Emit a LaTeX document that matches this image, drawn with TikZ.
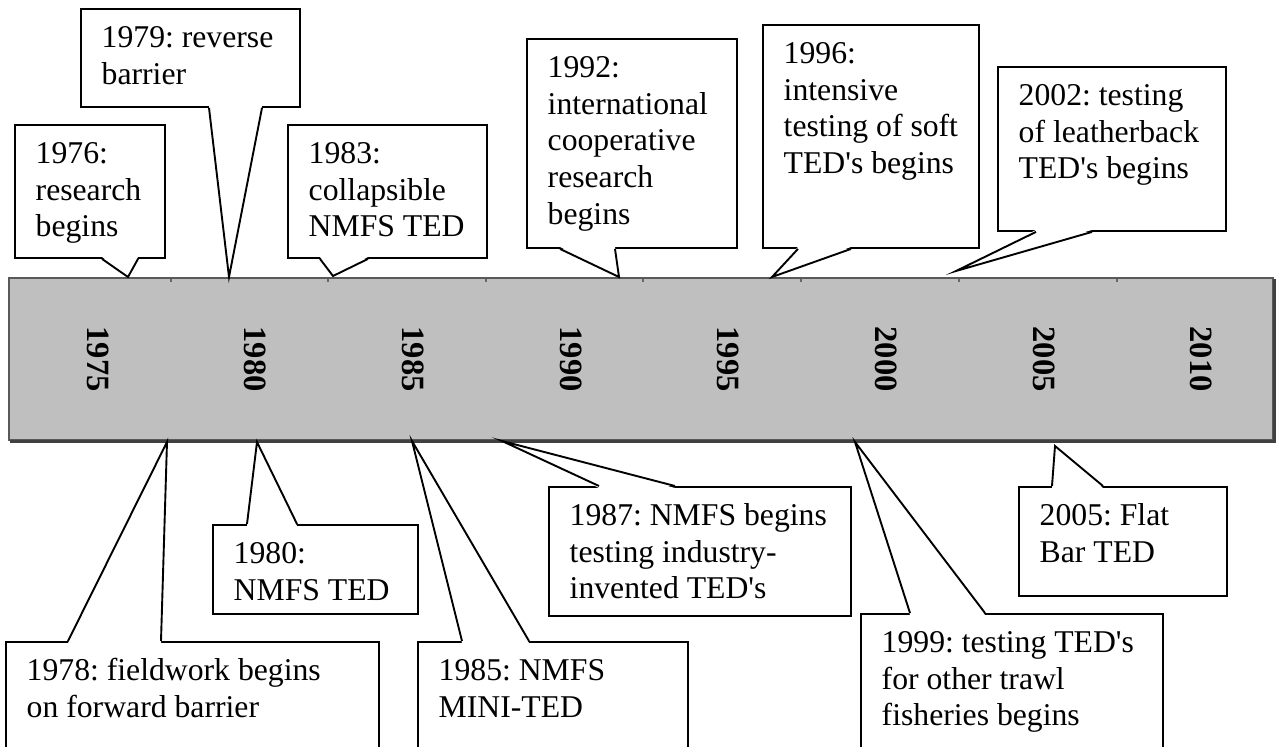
\documentclass[tikz,border=0pt]{standalone}
\usepackage{fontspec}
\setmainfont{Liberation Serif}[Ligatures=TeXOff]
\usetikzlibrary{calc}
\frenchspacing
\tikzset{
  bx/.style={draw, fill=white, line width=1.9pt, inner sep=0pt, anchor=north west},
  tx/.style={anchor=north west, inner sep=0pt, align=left, font=\fontsize{31.7}{36.8}\selectfont\frenchspacing},
  ptr/.style={line width=1.9pt, line join=miter, miter limit=40},
  yr/.style={rotate=-90, inner sep=0pt, font=\fontsize{32.5}{36}\selectfont\bfseries},
  tick/.style={draw=black!60, line width=1.2pt}
}
\newcommand\topptr[4]{%
  \fill[white] ($(#1.south west)+(#2,-2)$) -- (#4) -- ($(#1.south west)+(#3,-2)$) -- cycle;
  \draw[ptr] ($(#1.south west)+(#2,0)$) -- (#4) -- ($(#1.south west)+(#3,0)$);}
\newcommand\botptr[4]{%
  \fill[white] ($(#1.north west)+(#2,2)$) -- (#4) -- ($(#1.north west)+(#3,2)$) -- cycle;
  \draw[ptr] ($(#1.north west)+(#2,0)$) -- (#4) -- ($(#1.north west)+(#3,0)$);}
\newcommand\boxtext[2]{\node[tx] at ($(#1.north west)+(21.5,15)$) {\rule{0pt}{24pt}#2};}
\begin{document}
\begin{tikzpicture}[x=1pt, y=-1pt]
\useasboundingbox (0,0) rectangle (1280,747);
% bar
\draw[line width=2.2pt, draw=black!65, fill=gray!50] (9,278) rectangle (1273,440);
\draw[line width=2.2pt, draw=black!75] (10,441.5) -- (1274.5,441.5) -- (1274.5,279);
\node[inner sep=0pt] (bar) at (641,359) {};
\foreach \x in {171,328,486,643,801,959,1117} \draw[tick] (\x,279) -- (\x,282);
\foreach \x/\y in {98/1975,255.5/1980,413/1985,571/1990,728/1995,886/2000,1044/2005,1201/2010}
  \node[yr] (y\y) at (\x,359) {\y};
% tips
\coordinate (t1) at (128,277);
\coordinate (t2) at (229,277);
\coordinate (t3) at (333,276);
\coordinate (t4) at (619,277);
\coordinate (t5) at (772,277);
\coordinate (t6) at (956,271);
\coordinate (t7) at (167,442);
\coordinate (t8) at (257,442);
\coordinate (t9) at (412,441);
\coordinate (t10) at (502,441);
\coordinate (t11) at (855,442);
\coordinate (t12) at (1055,446);
% top boxes
\node[bx, minimum width=150pt, minimum height=133pt] (b1) at (14,124) {};
\node[bx, minimum width=219pt, minimum height=98pt] (b2) at (80,8) {};
\node[bx, minimum width=199pt, minimum height=133pt] (b3) at (287,124) {};
\node[bx, minimum width=210pt, minimum height=209pt] (b4) at (526,38) {};
\node[bx, minimum width=216pt, minimum height=223pt] (b5) at (762,24) {};
\node[bx, minimum width=228pt, minimum height=164pt] (b6) at (997,66) {};
% bottom boxes
\node[bx, minimum width=373pt, minimum height=106pt] (b7) at (5,641) {};
\node[bx, minimum width=205pt, minimum height=89pt] (b8) at (212,524) {};
\node[bx, minimum width=270pt, minimum height=106pt] (b9) at (417,641) {};
\node[bx, minimum width=302pt, minimum height=129pt] (b10) at (548,486) {};
\node[bx, minimum width=302pt, minimum height=134pt] (b11) at (860,613) {};
\node[bx, minimum width=208pt, minimum height=109pt] (b12) at (1018,486) {};
% pointers
\topptr{b1}{88}{124}{t1}
\topptr{b2}{129}{182}{t2}
\topptr{b3}{33}{81}{t3}
\topptr{b4}{34}{89}{t4}
\topptr{b5}{36}{89}{t5}
\topptr{b6}{39}{95}{t6}
\botptr{b7}{63}{156}{t7}
\botptr{b8}{35}{85}{t8}
\botptr{b9}{45}{112}{t9}
\botptr{b10}{51}{127}{t10}
\botptr{b11}{50}{125}{t11}
\botptr{b12}{34}{85}{t12}
% texts
\boxtext{b1}{1976:\\research\\begins}
\boxtext{b2}{1979: reverse\\barrier}
\boxtext{b3}{1983:\\collapsible\\NMFS TED}
\boxtext{b4}{1992:\\international\\cooperative\\research\\begins}
\boxtext{b5}{1996:\\intensive\\testing of soft\\TED's begins}
\boxtext{b6}{2002: testing\\of leatherback\\TED's begins}
\boxtext{b7}{1978: fieldwork begins\\on forward barrier}
\boxtext{b8}{1980:\\NMFS TED}
\boxtext{b9}{1985: NMFS\\MINI-TED}
\boxtext{b10}{1987: NMFS begins\\testing industry-\\invented TED's}
\boxtext{b11}{1999: testing TED's\\for other trawl\\fisheries begins}
\boxtext{b12}{2005: Flat\\Bar TED}
\end{tikzpicture}
\end{document}
